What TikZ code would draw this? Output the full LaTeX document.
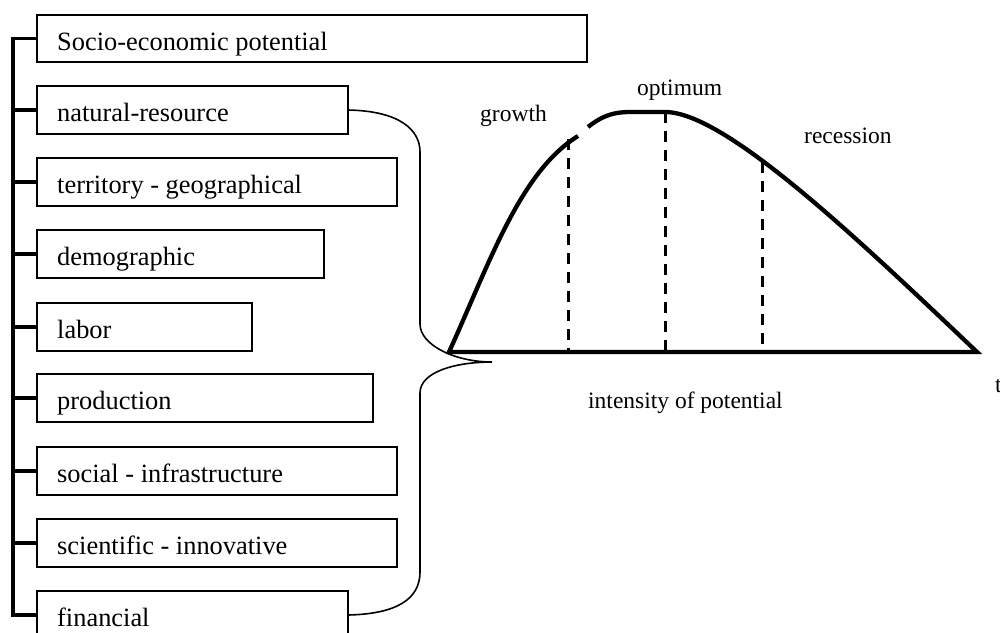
\documentclass[tikz,border=0pt]{standalone}
\usepackage{fontspec}
\setmainfont{Liberation Serif}
\newcommand\boxfont{\fontsize{26.4}{30}\selectfont}
\newcommand\lblfont{\fontsize{23.5}{27}\selectfont}
\begin{document}
\begin{tikzpicture}[x=1pt,y=-1pt,
  box/.style={draw, line width=1.8pt, minimum height=48pt, inner sep=0pt, outer sep=0pt, anchor=north west},
  boxtxt/.style={font=\boxfont, inner sep=0pt, anchor=base west},
  lbl/.style={font=\lblfont, inner sep=0pt, anchor=base west},
  brk/.style={line width=3.6pt},
  brc/.style={line width=1.6pt},
  crv/.style={line width=4.3pt, line join=miter},
  dsh/.style={line width=3pt, dash pattern=on 11pt off 8pt}]
\useasboundingbox (0,0) rectangle (1000,632);

% boxes
\node[box, minimum width=550pt, minimum height=47pt] (b1) at (37,15) {};
\node[box, minimum width=311pt] (b2) at (37,86) {};
\node[box, minimum width=360pt] (b3) at (37,158) {};
\node[box, minimum width=287pt] (b4) at (37,230) {};
\node[box, minimum width=215pt] (b5) at (37,303) {};
\node[box, minimum width=336pt] (b6) at (37,374) {};
\node[box, minimum width=360pt] (b7) at (37,447) {};
\node[box, minimum width=360pt] (b8) at (37,519) {};
\node[box, minimum width=311pt] (b9) at (37,591) {};

\node[boxtxt] (t1) at ([shift={(20,35.5)}]b1.north west) {Socio-economic potential};
\node[boxtxt] (t2) at ([shift={(20,35.5)}]b2.north west) {natural-resource};
\node[boxtxt] (t3) at ([shift={(20,35.5)}]b3.north west) {territory - geographical};
\node[boxtxt] (t4) at ([shift={(20,35.5)}]b4.north west) {demographic};
\node[boxtxt] (t5) at ([shift={(20,35.5)}]b5.north west) {labor};
\node[boxtxt] (t6) at ([shift={(20,35.5)}]b6.north west) {production};
\node[boxtxt] (t7) at ([shift={(20,35.5)}]b7.north west) {social - infrastructure};
\node[boxtxt] (t8) at ([shift={(20,35.5)}]b8.north west) {scientific - innovative};
\node[boxtxt] (t9) at ([shift={(20,35.5)}]b9.north west) {financial};

% left bracket
\coordinate (bx) at (13,0);
\draw[brk] (b1.west) -- (b1.west -| bx) |- (b9.west);
\foreach \i in {2,...,8} \draw[brk] (b\i.west) -- (b\i.west -| bx);

% brace
\coordinate (tip) at (492,362);
\draw[brc] (b2.east) .. controls (400,111) and (420,130) .. (420,152) -- (420,324)
  .. controls (420,345) and (455,362) .. (tip)
  .. controls (455,362) and (420,372) .. (420,393) -- (420,572)
  .. controls (420,600) and (395,614) .. (b9.east);

% chart
\coordinate (o) at (449,352);
\coordinate (e) at (977,352);
\draw[crv] (578,136) .. controls (520,172) and (490,262) .. (o) -- (e)
  .. controls (857,238) and (725,112) .. (665,112) -- (630,112)
  .. controls (615,112) and (603,115) .. (588,127);

\draw[dsh] (568,139) -- (568,352);
\draw[dsh] (665,112) -- (665,352);
\draw[dsh] (762,162) -- (762,352);

% labels
\node[lbl] (lg) at (480,121) {growth};
\node[lbl] (lo) at (637,95) {optimum};
\node[lbl] (lr) at (804,143) {recession};
\node[lbl] (li) at (588,408) {intensity of potential};
\node[lbl] (lt) at (995,392) {t};
\end{tikzpicture}
\end{document}
